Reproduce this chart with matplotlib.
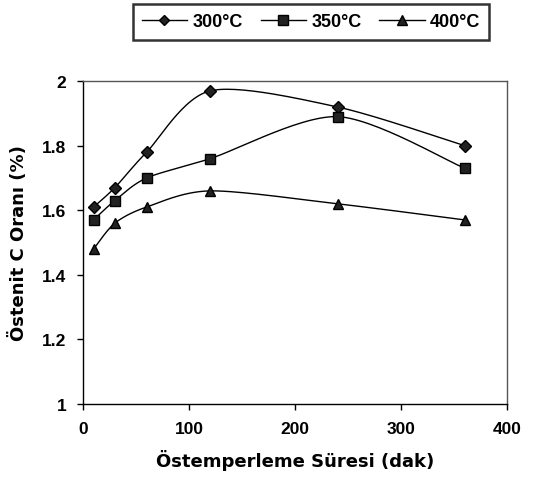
import numpy as np
import matplotlib
matplotlib.use("Agg")
import matplotlib.pyplot as plt
from matplotlib.ticker import FuncFormatter

# data
sure = [10, 30, 60, 120, 240, 360]
c_300 = [1.61, 1.67, 1.78, 1.97, 1.92, 1.80]
c_350 = [1.57, 1.63, 1.70, 1.76, 1.89, 1.73]
c_400 = [1.48, 1.56, 1.61, 1.66, 1.62, 1.57]
labels = ["300\u00b0C", "350\u00b0C", "400\u00b0C"]
markers = ["D", "s", "^"]
msizes = [6, 7.5, 7.5]


def smooth(x, y, n=30):
    # Excel-like smoothed line (Catmull-Rom through the points)
    x = np.asarray(x, float)
    y = np.asarray(y, float)
    px = np.concatenate([[x[0]], x, [x[-1]]])
    py = np.concatenate([[y[0]], y, [y[-1]]])
    xs, ys = [], []
    for i in range(1, len(px) - 2):
        t = np.linspace(0, 1, n)
        for p, out in ((px, xs), (py, ys)):
            p0, p1, p2, p3 = p[i - 1], p[i], p[i + 1], p[i + 2]
            m1 = (p2 - p0) / 2 * 0.85
            m2 = (p3 - p1) / 2 * 0.85
            h00 = 2 * t**3 - 3 * t**2 + 1
            h10 = t**3 - 2 * t**2 + t
            h01 = -2 * t**3 + 3 * t**2
            h11 = t**3 - t**2
            out.extend(h00 * p1 + h10 * m1 + h01 * p2 + h11 * m2)
    return np.array(xs), np.array(ys)


fig = plt.figure(figsize=(5.39, 4.89), dpi=100)
ax = fig.add_axes([0.154, 0.172, 0.787, 0.660])

handles = []
for ys, lab, m, ms in zip([c_300, c_350, c_400], labels, markers, msizes):
    sx, sy = smooth(sure, ys)
    ax.plot(sx, sy, color="black", lw=1.0)
    ax.plot(sure, ys, linestyle="none", marker=m, ms=ms, color="#222222",
            markeredgecolor="black")
    h, = ax.plot([], [], color="black", lw=1.0, marker=m, ms=ms - 0.5,
                 markerfacecolor="#222222", markeredgecolor="black", label=lab)
    handles.append(h)

ax.set_xlim(0, 400)
ax.set_ylim(1, 2)
ax.set_xticks([0, 100, 200, 300, 400])
ax.set_yticks([1, 1.2, 1.4, 1.6, 1.8, 2])
ax.yaxis.set_major_formatter(FuncFormatter(lambda v, p: ("%g" % round(v, 1))))
ax.tick_params(direction="out", length=4, width=1, labelsize=12.5, pad=8)
for lab in ax.get_xticklabels() + ax.get_yticklabels():
    lab.set_fontweight("bold")
    lab.set_family("Liberation Sans")
for s in ax.spines.values():
    s.set_color("#555555")
    s.set_linewidth(1.0)
ax.spines["left"].set_color("black")
ax.spines["bottom"].set_color("black")

ax.set_xlabel("\u00d6stemperleme S\u00fcresi (dak)", fontsize=13,
              fontweight="bold", labelpad=10)
ax.set_ylabel("\u00d6stenit C Oran\u0131 (%)", fontsize=13,
              fontweight="bold", labelpad=10)

leg = fig.legend(handles=handles, loc="center", bbox_to_anchor=(0.577, 0.953),
                 ncol=3, frameon=True, fancybox=False, edgecolor="black",
                 handlelength=2.5, columnspacing=1.0, handletextpad=0.3,
                 borderpad=0.5,
                 prop={"family": "Liberation Sans", "weight": "bold", "size": 13})
leg.get_frame().set_linewidth(1.8)

fig.savefig("out.png", dpi=100, facecolor="white")
